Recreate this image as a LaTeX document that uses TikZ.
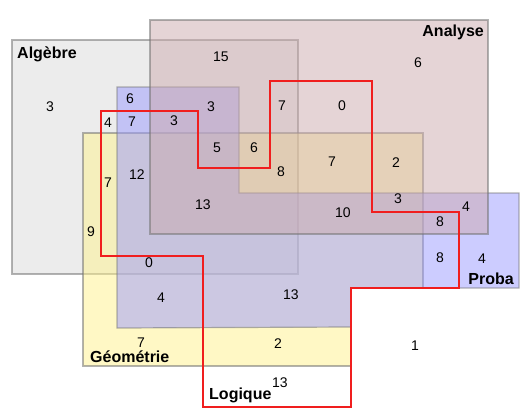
\documentclass[tikz,border=0pt]{standalone}
\usepackage{fontspec}
\setmainfont{Liberation Sans}
\definecolor{algfill}{RGB}{218,218,218}
\definecolor{geofill}{RGB}{255,242,140}
\definecolor{probfill}{RGB}{153,153,255}
\definecolor{anafill}{RGB}{204,170,173}
\definecolor{logicred}{RGB}{240,30,30}

\begin{document}
\begin{tikzpicture}[x=1pt, y=-1pt,
    region/.style={draw=black!55, draw opacity=0.55, line width=1.2pt, fill opacity=0.5},
    logic/.style={draw=logicred, line width=1.3pt},
    setname/.style={font=\fontsize{16}{16}\selectfont\bfseries, inner sep=0pt},
    count/.style={font=\fontsize{14}{14}\selectfont, inner sep=0pt}]
    \useasboundingbox (0,0) rectangle (531,418);

    % the four sets
    \filldraw[region, fill=algfill] (12,40) rectangle (298,274);
    \filldraw[region, fill=geofill] (83,133) -- (423,133) -- (423,288) -- (351,288) -- (351,366) -- (83,366) -- cycle;
    \filldraw[region, fill=probfill] (117,87) -- (239,87) -- (239,193) -- (519,193) -- (519,288) -- (351,288) -- (351,327) -- (117,328) -- cycle;
    \filldraw[region, fill=anafill] (150,20) rectangle (488,234);

    % Logique, outline only
    \draw[logic] (101,111) -- (198,111) -- (198,168) -- (270,168) -- (270,81) -- (372,81) -- (372,212) -- (459,212) -- (459,288) -- (351,288) -- (351,407) -- (203,407) -- (203,256) -- (101,256) -- cycle;

    % set names
    \node[setname, anchor=base west] (alg) at (17,58) {Algèbre};
    \node[setname, anchor=base east] (ana) at (484,36) {Analyse};
    \node[setname, anchor=base west] (geo) at (90,362) {Géométrie};
    \node[setname, anchor=base east] (prob) at (514,284) {Proba};
    \node[setname, anchor=base west] (logq) at (209,399) {Logique};

    % counts
    \foreach \px/\py/\val [count=\k] in {221/57/15, 418/63/6, 50/107/3, 130/99/6, 211/107/3,
        282/106/7, 342/106/0, 108/123/4, 132/122/7, 174/121/3, 217/148/5, 254/148/6,
        281/172/8, 332/162/7, 396/163/2, 108/183/7, 137/175/12, 203/205/13, 398/199/3,
        343/213/10, 466/207/4, 440/222/8, 91/232/9, 149/263/0, 291/295/13, 440/258/8,
        482/259/4, 161/298/4, 141/343/7, 278/344/2, 415/346/1, 280/383/13}
        \node[count] (c\k) at (\px,\py) {\val};
\end{tikzpicture}
\end{document}
